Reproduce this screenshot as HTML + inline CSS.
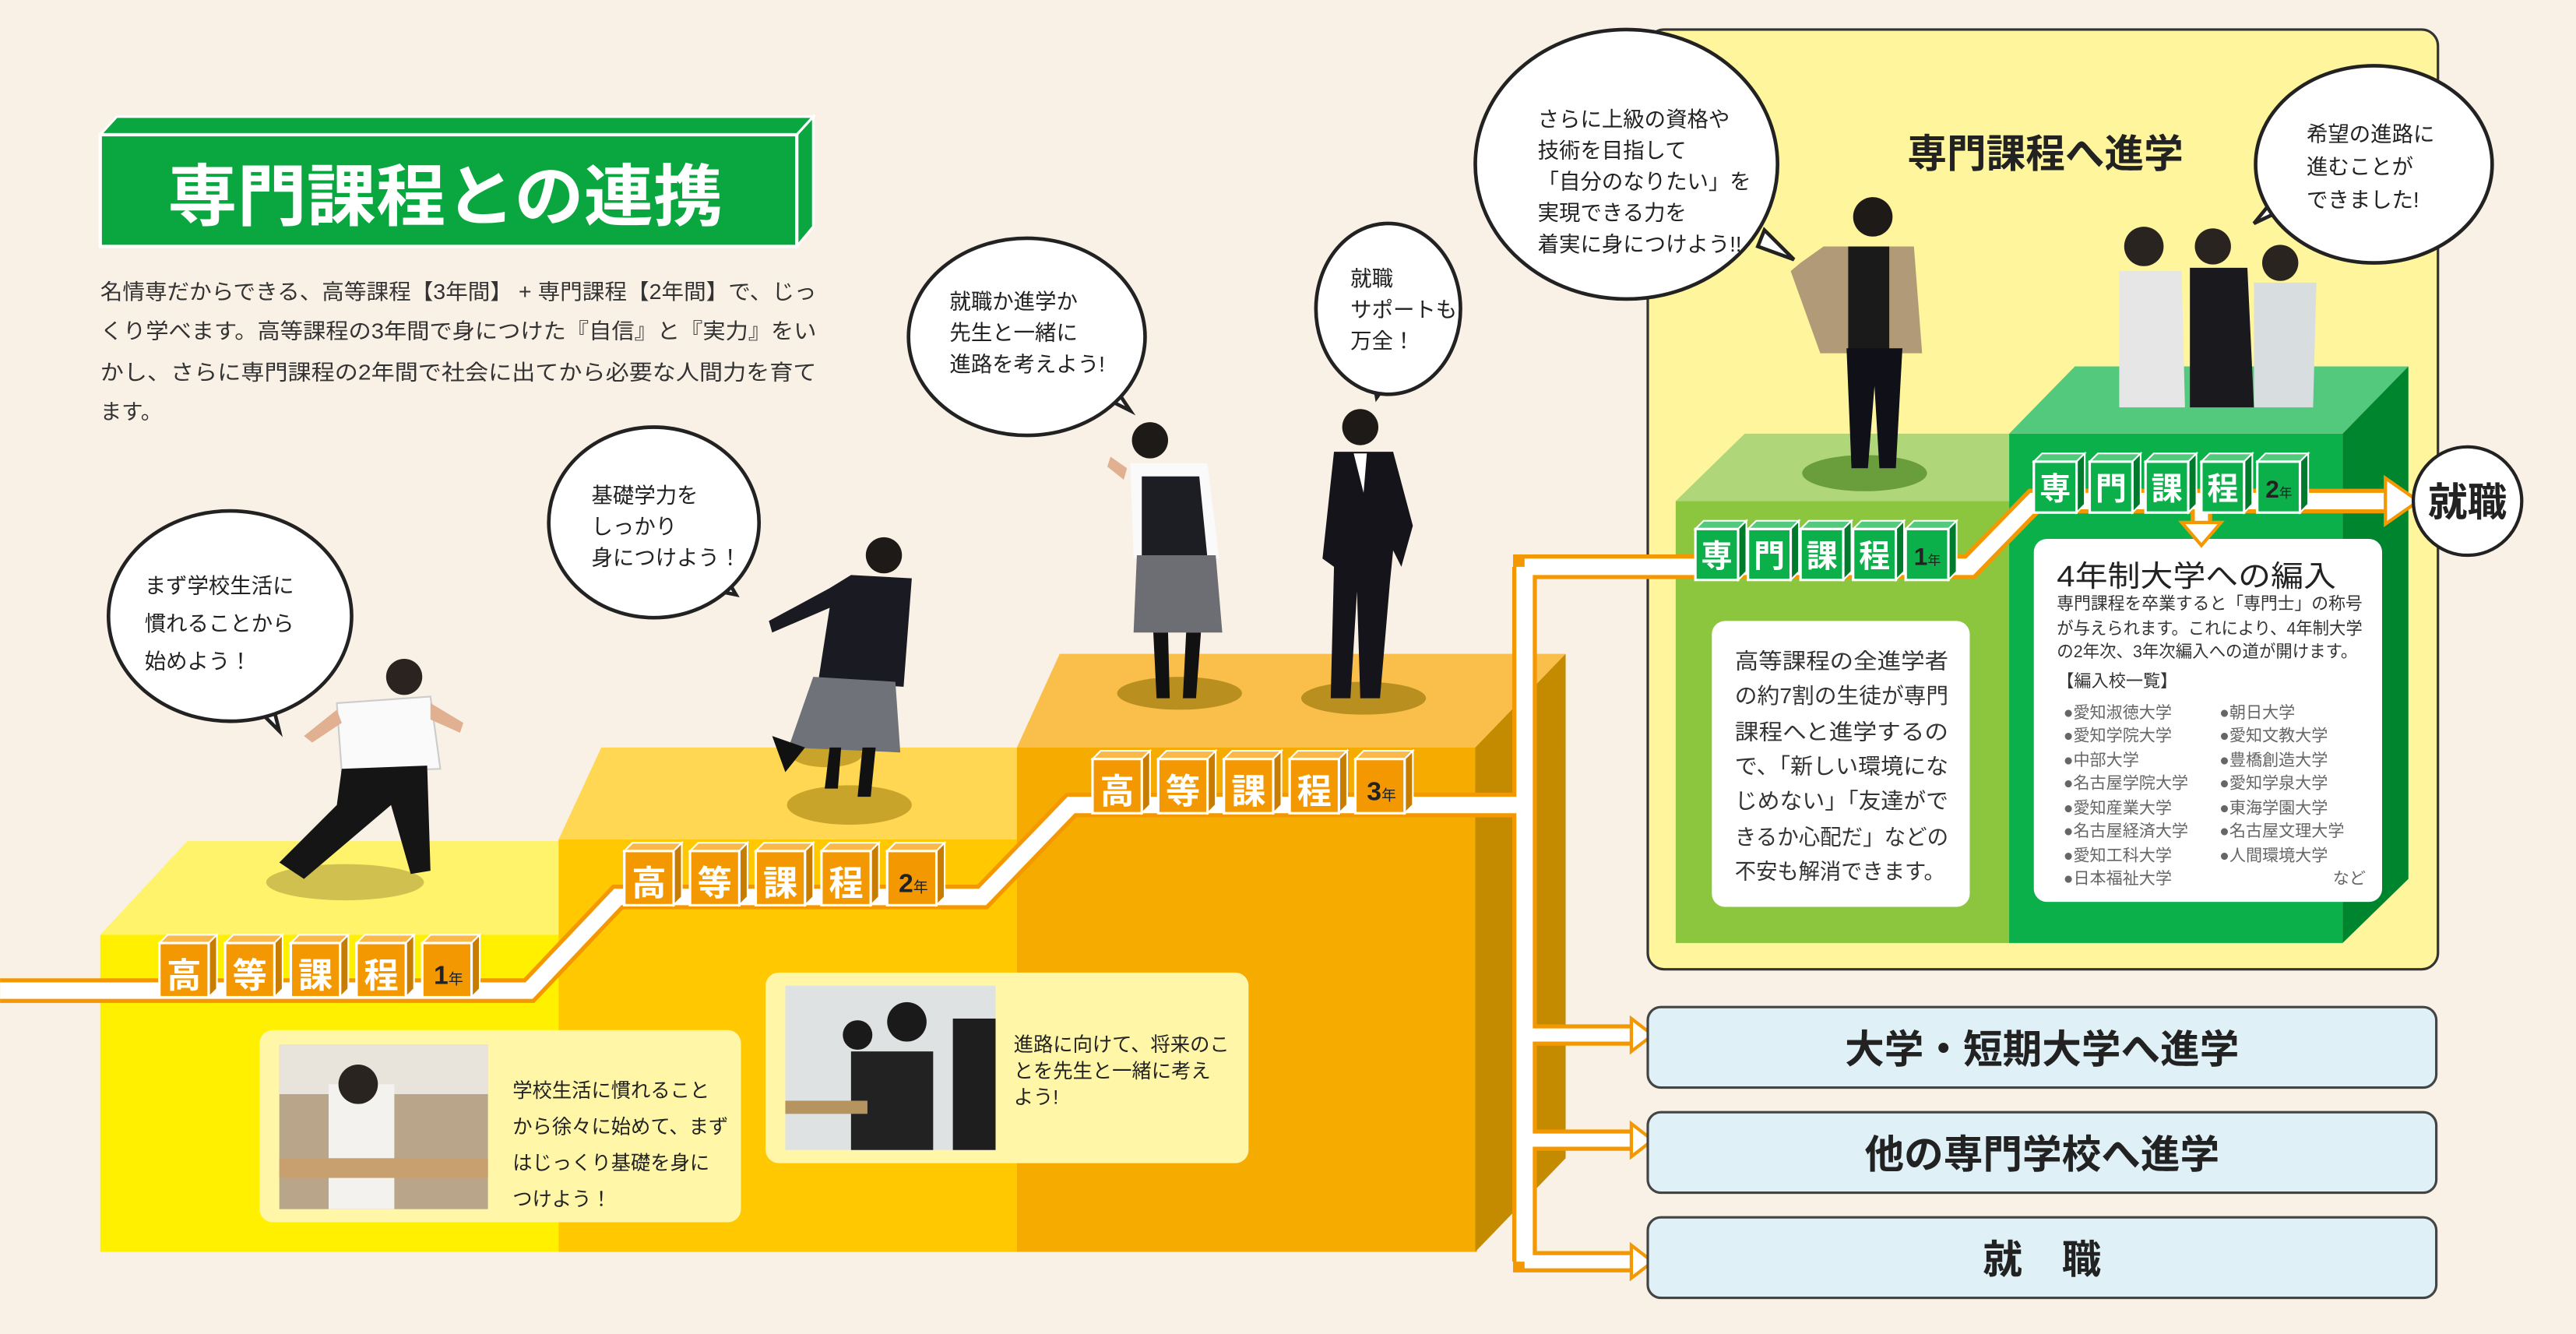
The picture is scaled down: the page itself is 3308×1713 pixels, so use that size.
<!DOCTYPE html>
<html><head><meta charset="utf-8"><style>
html,body{margin:0;padding:0;background:#f9f0e6;}
svg{display:block;}
text{font-family:"Liberation Sans","Noto Sans CJK JP",sans-serif;}
</style></head><body>
<svg width="3308" height="1713" viewBox="0 0 1568 812" xmlns="http://www.w3.org/2000/svg">
<defs>
<g id="co"><path d="M0,5 l5,-5 h30 l-5,5z" fill="#fbb84a" stroke="#fff" stroke-width="1"/><path d="M30,5 l5,-5 v33 l-5,5z" fill="#c87d00" stroke="#fff" stroke-width="1"/><rect x="0" y="5" width="30" height="33" fill="#f39800" stroke="#fff" stroke-width="1.5"/></g>
<g id="cg"><path d="M0,5 l5,-5 h26 l-5,5z" fill="#52c97d" stroke="#fff" stroke-width="1"/><path d="M26,5 l5,-5 v31 l-5,5z" fill="#007a2c" stroke="#fff" stroke-width="1"/><rect x="0" y="5" width="26" height="31" fill="#0bb04a" stroke="#fff" stroke-width="1.5"/></g>
</defs>
<rect width="1568" height="812" fill="#f9f0e6"/>

<!-- title -->
<path d="M61,82 l10,-11 h424 l-10,11z" fill="#0aa63f" stroke="#fff" stroke-width="1.5"/>
<path d="M485,82 l10,-11 v67 l-10,12z" fill="#0aa63f" stroke="#fff" stroke-width="1.5"/>
<rect x="61" y="82" width="424" height="68" fill="#0aa63f" stroke="#fff" stroke-width="2"/>
<text x="271" y="134" font-size="41" font-weight="bold" fill="#fff" text-anchor="middle" textLength="338" lengthAdjust="spacingAndGlyphs">専門課程との連携</text>
<g font-size="13" fill="#333">
<text x="61" y="182" textLength="436" lengthAdjust="spacingAndGlyphs">名情専だからできる、高等課程【3年間】 + 専門課程【2年間】で、じっ</text>
<text x="61" y="206" textLength="436" lengthAdjust="spacingAndGlyphs">くり学べます。高等課程の3年間で身につけた『自信』と『実力』をい</text>
<text x="61" y="231" textLength="436" lengthAdjust="spacingAndGlyphs">かし、さらに専門課程の2年間で社会に出てから必要な人間力を育て</text>
<text x="61" y="255">ます。</text>
</g>

<!-- steps -->
<path d="M61,569 L114,512 H340 V569Z" fill="#fff36b"/>
<rect x="61" y="569" width="280" height="193" fill="#fff000"/>
<path d="M340,511 L366,455 H620 V511Z" fill="#ffd752"/>
<rect x="340" y="511" width="280" height="251" fill="#ffc800"/>
<path d="M619,455 L645,398 H953 L898,455Z" fill="#f9bf4a"/>
<rect x="619" y="455" width="280" height="307" fill="#f6ab00"/>
<path d="M898,455 L953,398 V705 L898,762Z" fill="#c48a00"/>

<!-- shadows -->
<ellipse cx="210" cy="537" rx="48" ry="11" fill="#cfc04f"/>
<ellipse cx="503" cy="459" rx="22" ry="8" fill="#c9a42a"/>
<ellipse cx="517" cy="490" rx="38" ry="12" fill="#c9a42a"/>
<ellipse cx="718" cy="422" rx="38" ry="10" fill="#b98f20"/>
<ellipse cx="830" cy="425" rx="38" ry="10" fill="#b98f20"/>

<!-- yellow-panel -->
<rect x="1003" y="18" width="481" height="572" rx="10" fill="#fff59c" stroke="#333" stroke-width="1.5"/>
<text x="1245" y="102" font-size="24" font-weight="bold" fill="#222" text-anchor="middle">専門課程へ進学</text>
<path d="M1020,305 L1062,264 H1223 V305Z" fill="#b0d67a"/>
<rect x="1020" y="305" width="204" height="269" fill="#8cc63f"/>
<path d="M1223,264 L1263,223 H1466 L1426,264Z" fill="#52c97d"/>
<rect x="1223" y="264" width="203" height="310" fill="#0bb04a"/>
<path d="M1426,264 L1466,223 V535 L1426,574Z" fill="#00852f"/>
<ellipse cx="1135" cy="288" rx="38" ry="11" fill="#6a9e3d"/>

<!-- white boxes -->
<rect x="1042" y="378" width="157" height="174" rx="8" fill="#fff"/>
<g font-size="13.2" fill="#333">
<text x="1056" y="407" textLength="130" lengthAdjust="spacingAndGlyphs">高等課程の全進学者</text>
<text x="1056" y="428" textLength="130" lengthAdjust="spacingAndGlyphs">の約7割の生徒が専門</text>
<text x="1056" y="450" textLength="130" lengthAdjust="spacingAndGlyphs">課程へと進学するの</text>
<text x="1056" y="471" textLength="130" lengthAdjust="spacingAndGlyphs">で、「新しい環境にな</text>
<text x="1056" y="492" textLength="130" lengthAdjust="spacingAndGlyphs">じめない」「友達がで</text>
<text x="1056" y="514" textLength="130" lengthAdjust="spacingAndGlyphs">きるか心配だ」などの</text>
<text x="1056" y="535" textLength="128" lengthAdjust="spacingAndGlyphs">不安も解消できます。</text>
</g>
<rect x="1238" y="328" width="212" height="221" rx="8" fill="#fff"/>
<text x="1252" y="357" font-size="18" fill="#222" textLength="170" lengthAdjust="spacingAndGlyphs">4年制大学への編入</text>
<g font-size="10.5" fill="#333">
<text x="1252" y="371" textLength="186" lengthAdjust="spacingAndGlyphs">専門課程を卒業すると「専門士」の称号</text>
<text x="1252" y="386" textLength="186" lengthAdjust="spacingAndGlyphs">が与えられます。これにより、4年制大学</text>
<text x="1252" y="400" textLength="183" lengthAdjust="spacingAndGlyphs">の2年次、3年次編入への道が開けます。</text>
<text x="1252" y="418">【編入校一覧】</text>
</g>
<g font-size="10" fill="#666">
<text x="1256" y="437">●愛知淑徳大学</text><text x="1351" y="437">●朝日大学</text>
<text x="1256" y="451">●愛知学院大学</text><text x="1351" y="451">●愛知文教大学</text>
<text x="1256" y="466">●中部大学</text><text x="1351" y="466">●豊橋創造大学</text>
<text x="1256" y="480">●名古屋学院大学</text><text x="1351" y="480">●愛知学泉大学</text>
<text x="1256" y="495">●愛知産業大学</text><text x="1351" y="495">●東海学園大学</text>
<text x="1256" y="509">●名古屋経済大学</text><text x="1351" y="509">●名古屋文理大学</text>
<text x="1256" y="524">●愛知工科大学</text><text x="1351" y="524">●人間環境大学</text>
<text x="1256" y="538">●日本福祉大学</text><text x="1440" y="538" text-anchor="end">など</text>
</g>

<!-- path lines -->
<g fill="none" stroke-linejoin="miter">
<polyline points="0,603 322,603 376,546 598,546 652,490 928,490" stroke="#f39800" stroke-width="15"/>
<polyline points="928,345 928,768" stroke="#f39800" stroke-width="15"/>
<polyline points="928,630 995,630" stroke="#f39800" stroke-width="13"/>
<polyline points="928,694 995,694" stroke="#f39800" stroke-width="13"/>
<polyline points="921,768 995,768" stroke="#f39800" stroke-width="13"/>
<polyline points="921,345 1199,345 1238,305 1455,305" stroke="#f39800" stroke-width="15"/>
<polyline points="1340,305 1340,320" stroke="#f39800" stroke-width="13"/>
<polyline points="0,603 322,603 376,546 598,546 652,490 928,490" stroke="#fff" stroke-width="10"/>
<polyline points="928,345 928,768" stroke="#fff" stroke-width="10"/>
<polyline points="928,630 995,630" stroke="#fff" stroke-width="8"/>
<polyline points="928,694 995,694" stroke="#fff" stroke-width="8"/>
<polyline points="928,768 995,768" stroke="#fff" stroke-width="8"/>
<polyline points="928,345 1199,345 1238,305 1455,305" stroke="#fff" stroke-width="10"/>
<polyline points="1340,305 1340,322" stroke="#fff" stroke-width="8"/>
</g>
<g fill="#fff" stroke="#f39800" stroke-width="2">
<path d="M993,620 L1006,630 L993,640Z"/>
<path d="M993,684 L1006,694 L993,704Z"/>
<path d="M993,758 L1006,768 L993,778Z"/>
<path d="M1452,291 L1472,305 L1452,319Z"/>
<path d="M1328,318 L1340,332 L1352,318Z"/>
</g>

<!-- cube labels orange -->
<g>
<use href="#co" x="97" y="569"/><use href="#co" x="137" y="569"/><use href="#co" x="177" y="569"/><use href="#co" x="217" y="569"/><use href="#co" x="257" y="569"/>
<use href="#co" x="380" y="513"/><use href="#co" x="420" y="513"/><use href="#co" x="460" y="513"/><use href="#co" x="500" y="513"/><use href="#co" x="540" y="513"/>
<use href="#co" x="665" y="457"/><use href="#co" x="705" y="457"/><use href="#co" x="745" y="457"/><use href="#co" x="785" y="457"/><use href="#co" x="825" y="457"/>
</g>
<g font-size="21" font-weight="bold" fill="#fff" text-anchor="middle">
<text x="112" y="601">高</text><text x="152" y="601">等</text><text x="192" y="601">課</text><text x="232" y="601">程</text>
<text x="395" y="545">高</text><text x="435" y="545">等</text><text x="475" y="545">課</text><text x="515" y="545">程</text>
<text x="680" y="489">高</text><text x="720" y="489">等</text><text x="760" y="489">課</text><text x="800" y="489">程</text>
</g>
<g font-weight="bold" fill="#222">
<text x="264" y="599" font-size="16">1<tspan font-size="9" font-weight="normal">年</tspan></text>
<text x="547" y="543" font-size="16">2<tspan font-size="9" font-weight="normal">年</tspan></text>
<text x="832" y="487" font-size="16">3<tspan font-size="9" font-weight="normal">年</tspan></text>
</g>
<!-- green cubes -->
<g>
<use href="#cg" x="1032" y="317"/><use href="#cg" x="1064" y="317"/><use href="#cg" x="1096" y="317"/><use href="#cg" x="1128" y="317"/><use href="#cg" x="1160" y="317"/>
<use href="#cg" x="1238" y="276"/><use href="#cg" x="1272" y="276"/><use href="#cg" x="1306" y="276"/><use href="#cg" x="1340" y="276"/><use href="#cg" x="1374" y="276"/>
</g>
<g font-size="19" font-weight="bold" fill="#fff" text-anchor="middle">
<text x="1045" y="345">専</text><text x="1077" y="345">門</text><text x="1109" y="345">課</text><text x="1141" y="345">程</text>
<text x="1251" y="304">専</text><text x="1285" y="304">門</text><text x="1319" y="304">課</text><text x="1353" y="304">程</text>
</g>
<g font-weight="bold" fill="#222">
<text x="1165" y="344" font-size="15">1<tspan font-size="8" font-weight="normal">年</tspan></text>
<text x="1379" y="303" font-size="15">2<tspan font-size="8" font-weight="normal">年</tspan></text>
</g>

<!-- 就職 circle -->
<circle cx="1502" cy="305" r="33" fill="#fff" stroke="#222" stroke-width="2"/>
<text x="1502" y="314" font-size="24" font-weight="bold" fill="#222" text-anchor="middle">就職</text>

<!-- blue boxes -->
<g fill="#dff0f7" stroke="#444" stroke-width="1.5">
<rect x="1003" y="613" width="480" height="49" rx="8"/>
<rect x="1003" y="677" width="480" height="49" rx="8"/>
<rect x="1003" y="741" width="480" height="49" rx="8"/>
</g>
<g font-size="24" font-weight="bold" fill="#222" text-anchor="middle">
<text x="1243" y="647">大学・短期大学へ進学</text>
<text x="1243" y="711">他の専門学校へ進学</text>
<text x="1243" y="775">就　職</text>
</g>

<!-- photo cards -->
<rect x="158" y="627" width="293" height="117" rx="8" fill="#fff6a8"/>
<rect x="170" y="636" width="127" height="100" fill="#b8a58a"/>
<rect x="170" y="636" width="127" height="30" fill="#e8e4dc"/>
<rect x="200" y="660" width="40" height="76" fill="#f4f2ee"/>
<circle cx="218" cy="660" r="12" fill="#2a2420"/>
<rect x="170" y="705" width="127" height="12" fill="#c8a070"/>
<g font-size="12" fill="#222">
<text x="312" y="668">学校生活に慣れること</text>
<text x="312" y="690">から徐々に始めて、まず</text>
<text x="312" y="712">はじっくり基礎を身に</text>
<text x="312" y="734">つけよう！</text>
</g>
<rect x="466" y="592" width="294" height="116" rx="8" fill="#fff6a8"/>
<rect x="478" y="600" width="128" height="100" fill="#dfe2e2"/>
<rect x="518" y="640" width="50" height="60" fill="#222"/>
<circle cx="552" cy="622" r="12" fill="#1a1a1a"/>
<circle cx="522" cy="630" r="9" fill="#1a1a1a"/>
<rect x="580" y="620" width="26" height="80" fill="#1e1e1e"/>
<rect x="478" y="670" width="50" height="8" fill="#b59460"/>
<g font-size="12" fill="#222">
<text x="617" y="640">進路に向けて、将来のこ</text>
<text x="617" y="656">とを先生と一緒に考え</text>
<text x="617" y="672">よう!</text>
</g>

<!-- people (approx) -->
<g>
<!-- P1 runner -->
<circle cx="246" cy="412" r="11" fill="#2a2320"/>
<path d="M205,428 L262,424 L268,468 L208,470Z" fill="#fafafa" stroke="#ccc"/>
<path d="M208,468 L260,466 L262,530 L250,532 L238,490 L185,535 L170,525 L205,490Z" fill="#151515"/>
<path d="M205,432 L185,448 L190,452 L208,440Z" fill="#e0b090"/>
<path d="M262,428 L282,440 L280,446 L262,438Z" fill="#e0b090"/>
<!-- P2 -->
<circle cx="538" cy="338" r="11" fill="#1e1a18"/>
<path d="M518,350 L555,352 L550,418 L498,415 L505,370 L470,385 L468,378 L505,358Z" fill="#1a1a22"/>
<path d="M495,412 L545,415 L548,458 L480,455Z" fill="#6f7279"/>
<path d="M505,455 L512,455 L510,480 L502,480Z M525,455 L533,455 L530,485 L522,485Z M470,448 L490,455 L478,470Z" fill="#111"/>
<!-- P3 -->
<circle cx="700" cy="268" r="11" fill="#1e1a18"/>
<path d="M688,282 L735,282 L742,340 L690,340Z" fill="#fafafa"/>
<path d="M695,290 L730,290 L735,340 L695,340Z" fill="#1d1d24"/>
<path d="M692,338 L740,338 L744,385 L690,385Z" fill="#6c6e74"/>
<path d="M702,385 L711,385 L712,425 L704,425Z M722,385 L731,385 L728,425 L720,425Z" fill="#111"/>
<path d="M686,285 L676,278 L674,284 L684,292Z" fill="#e0b090"/>
<!-- P4 -->
<circle cx="828" cy="260" r="11" fill="#1e1a18"/>
<path d="M812,275 L848,275 L860,320 L853,345 L848,335 L846,355 L840,425 L828,425 L826,360 L822,425 L810,425 L812,345 L805,340Z" fill="#14141a"/>
<path d="M824,276 L832,276 L830,300Z" fill="#fff"/>
<!-- P5 -->
<circle cx="1140" cy="132" r="12" fill="#1e1a18"/>
<path d="M1110,150 L1165,150 L1170,215 L1108,215 L1090,165 L1096,160Z" fill="#b09a78"/>
<path d="M1125,150 L1150,150 L1150,215 L1125,215Z" fill="#1a1a1a"/>
<path d="M1124,212 L1158,212 L1154,285 L1144,285 L1141,235 L1137,285 L1127,285Z" fill="#101018"/>
<!-- P6 group -->
<circle cx="1305" cy="150" r="12" fill="#2a2420"/>
<circle cx="1347" cy="150" r="11" fill="#2a2420"/>
<circle cx="1388" cy="160" r="11" fill="#2a2420"/>
<path d="M1290,165 L1328,165 L1330,248 L1290,248Z" fill="#e6e6e6"/>
<path d="M1333,163 L1368,163 L1372,248 L1333,248Z" fill="#1a1a1e"/>
<path d="M1372,172 L1410,172 L1408,248 L1372,248Z" fill="#d8dde0"/>
</g>

<!-- speech bubbles -->
<g fill="#fff" stroke="#222" stroke-width="2.2">
<path d="M155,430 L170,445 L165,425Z"/>
<ellipse cx="140" cy="375" rx="74" ry="64"/>
<path d="M428,358 L448,362 L438,345Z"/>
<ellipse cx="398" cy="318" rx="64" ry="58"/>
<path d="M668,240 L688,250 L676,232Z"/>
<ellipse cx="625" cy="205" rx="72" ry="60"/>
<path d="M835,225 L838,242 L848,228Z"/>
<ellipse cx="845" cy="188" rx="44" ry="52"/>
<path d="M1070,150 L1092,158 L1074,140Z"/>
<ellipse cx="990" cy="100" rx="92" ry="82"/>
<path d="M1385,120 L1372,136 L1393,126Z"/>
<ellipse cx="1445" cy="100" rx="72" ry="60"/>
</g>
<g font-size="13" fill="#222">
<text x="88" y="361">まず学校生活に</text>
<text x="88" y="384">慣れることから</text>
<text x="88" y="407">始めよう！</text>
<text x="360" y="306">基礎学力を</text>
<text x="360" y="325">しっかり</text>
<text x="360" y="344">身につけよう！</text>
<text x="578" y="188">就職か進学か</text>
<text x="578" y="207">先生と一緒に</text>
<text x="578" y="226">進路を考えよう!</text>
<text x="822" y="174">就職</text>
<text x="822" y="193">サポートも</text>
<text x="822" y="212">万全！</text>
<text x="936" y="77">さらに上級の資格や</text>
<text x="936" y="96">技術を目指して</text>
<text x="936" y="115">「自分のなりたい」を</text>
<text x="936" y="134">実現できる力を</text>
<text x="936" y="153">着実に身につけよう!!</text>
<text x="1404" y="86">希望の進路に</text>
<text x="1404" y="106">進むことが</text>
<text x="1404" y="126">できました!</text>
</g>
</svg>
</body></html>
